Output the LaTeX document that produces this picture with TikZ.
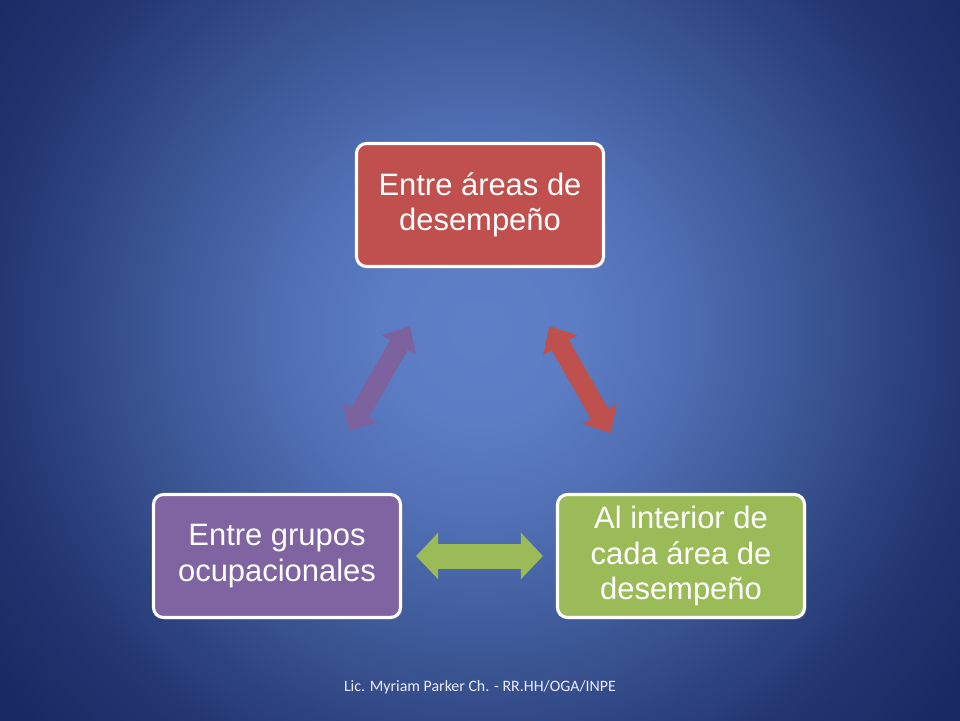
\documentclass[tikz,border=0pt]{standalone}
\usepackage{fontspec}
\setmainfont{Liberation Sans}
\newfontfamily\footfont{Carlito}
\usetikzlibrary{arrows.meta,shadows}
\definecolor{cus-red}{RGB}{192,80,77}
\definecolor{cus-green}{RGB}{155,187,89}
\definecolor{cus-purple}{RGB}{128,100,162}
\definecolor{cus-redarrow}{RGB}{190,80,78}
\definecolor{cus-purplearrow}{RGB}{125,98,160}
\pgfdeclareradialshading{cus-bg}{\pgfpoint{0bp}{0bp}}{rgb(0bp)=(0.37,0.5,0.78); rgb(5bp)=(0.36,0.485,0.77); rgb(10.5bp)=(0.31,0.43,0.7); rgb(16.7bp)=(0.24,0.345,0.59); rgb(25bp)=(0.14,0.215,0.45); rgb(31bp)=(0.1,0.16,0.39); rgb(50bp)=(0.09,0.15,0.37)}
\tikzset{
	areabox/.style={draw=white, line width=2.2pt, rounded corners=0.25cm, minimum width=6.175cm, minimum height=3.075cm, align=center, text=white, font=\fontsize{22}{25}\selectfont, drop shadow={shadow xshift=1.5pt, shadow yshift=-1.5pt, opacity=0.35}},
	slant/.style={line width=0.5cm, {Triangle[length=0.55cm,width=0.95cm]}-{Triangle[length=0.55cm,width=0.95cm]}},
	flat/.style={line width=0.625cm, {Triangle[length=0.55cm,width=1.125cm]}-{Triangle[length=0.55cm,width=1.125cm]}}
}

\begin{document}
\begin{tikzpicture}
\useasboundingbox (0 ,0) rectangle (24 ,18);
\begin{scope}
\clip (0 ,0) rectangle (24 ,18);
\shade [shading=cus-bg] (0 ,-2.25) rectangle (24 ,21.75);
\end{scope}

\node [areabox, fill=cus-red] (areas) at (12 ,12.875) {Entre áreas de\\desempeño};
\node [areabox, fill=cus-purple] (grupos) at (6.925 ,4.1) {Entre grupos\\ocupacionales};
\node [areabox, fill=cus-green] (interior) at (17.025 ,4.1) {Al interior de\\cada área de\\desempeño};

\draw [slant, cus-purplearrow, shorten <=1.775cm, shorten >=1.675cm] (grupos) -- (areas);
\draw [slant, cus-redarrow, shorten <=1.675cm, shorten >=1.725cm] (areas) -- (interior);
\draw [flat, cus-green, shorten <=0.35cm, shorten >=0.325cm] (grupos) -- (interior);

\node [text=white!92!blue, font=\footfont\fontsize{11.3}{13}\selectfont] (autor) at (12 ,0.825) {Lic. Myriam Parker Ch. - RR.HH/OGA/INPE};
\end{tikzpicture}
\end{document}
